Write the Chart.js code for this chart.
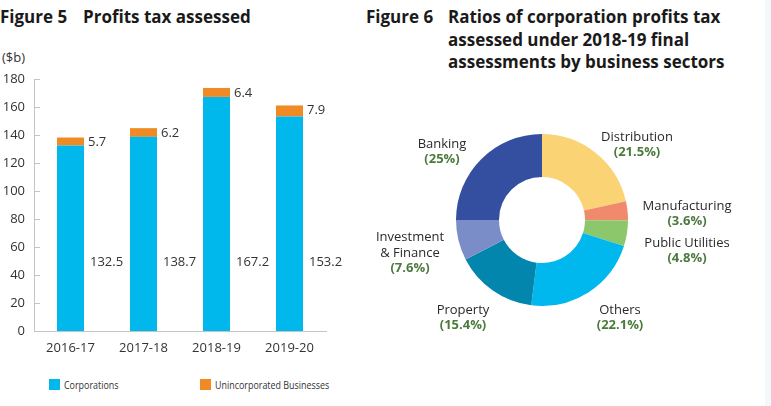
<!DOCTYPE html>
<html>
<head>
<meta charset="utf-8">
<script src="https://cdn.jsdelivr.net/npm/chart.js@4"></script>
<style>
  html, body { margin: 0; padding: 0; background: #fff; }
  body { width: 771px; height: 406px; position: relative; overflow: hidden; font-family: "Open Sans", sans-serif; color: #333; }
  .title { position: absolute; font-family: "Open Sans", sans-serif; font-weight: 700; font-size: 17px; color: #1a1a1a; line-height: 22px; white-space: nowrap; }
  .title .num { display: inline-block; }
  .unit { position: absolute; left: 2px; top: 48px; font-size: 13px; color: #333; }
  .legend { position: absolute; top: 377px; font-size: 11px; color: #333; white-space: nowrap; }
  .legend i { display: inline-block; width: 11px; height: 11px; vertical-align: -1px; margin-right: 4px; }
  .legend span { display: inline-block; transform: scaleX(0.81); transform-origin: left center; }
  .box { position: absolute; }
  .edge { position: absolute; right: 0; top: 0; width: 6px; height: 406px; background: #f3f8fa; }
</style>
</head>
<body>

<div class="title" style="left:0; top:6px;"><span class="num" style="width:83px">Figure 5</span>Profits tax assessed</div>
<div class="title" style="left:366px; top:6px;"><span class="num" style="width:82px">Figure 6</span>Ratios of corporation profits tax</div>
<div class="title" style="left:448px; top:29px;">assessed under 2018-19 final</div>
<div class="title" style="left:448px; top:51px;">assessments by business sectors</div>

<div class="unit">($b)</div>

<div class="box" style="left:0; top:60px; width:345px; height:305px;"><canvas id="barChart"></canvas></div>
<div class="box" style="left:360px; top:100px; width:411px; height:250px;"><canvas id="pieChart"></canvas></div>

<div class="legend" style="left:49px;"><i style="background:#00b8ec"></i><span>Corporations</span></div>
<div class="legend" style="left:200px;"><i style="background:#f08a24"></i><span>Unincorporated Businesses</span></div>

<div class="edge"></div>

<script>
/* ============================================================
   FIGURE 5 - PROFITS TAX ASSESSED
   ============================================================ */

const years = ['2016-17', '2017-18', '2018-19', '2019-20'];
const corporations = [132.5, 138.7, 167.2, 153.2];
const unincorporated = [5.7, 6.2, 6.4, 7.9];
const yTicks = [0, 20, 40, 60, 80, 100, 120, 140, 160, 180];

/* ============================================================
   FIGURE 6 - SECTOR RATIOS
   ============================================================ */

const sectorNames = [['Distribution'], ['Manufacturing'], ['Public Utilities'], ['Others'], ['Property'], ['Investment', '& Finance'], ['Banking']];
const sectorShares = [21.5, 3.6, 4.8, 22.1, 15.4, 7.6, 25];

const BLUE = '#00b8ec';
const ORANGE = '#f08a24';
const sectorColors = ['#fad474', '#ef8a6c', '#8cc76c', '#00b8ee', '#0386ad', '#7b8dc9', '#344ea0'];
// label centres, offset from the doughnut centre (px)
const labelSpots = [[95, -75], [145, -6], [145, 31], [78, 98], [-79, 98], [-132, 33], [-100, -68]];

const AXIS = '#c4c4c4';
const FONT = '"Open Sans", sans-serif';

const barDecor = {
  id: 'barDecor',
  afterDraw(chart) {
    const { ctx, chartArea, scales } = chart;
    const y = scales.y;
    ctx.save();
    // inward tick marks on the value axis
    ctx.strokeStyle = AXIS;
    ctx.lineWidth = 1;
    yTicks.forEach(v => {
      const py = Math.round(y.getPixelForValue(v)) + 0.5;
      ctx.beginPath();
      ctx.moveTo(chartArea.left, py);
      ctx.lineTo(chartArea.left + 6, py);
      ctx.stroke();
    });
    // value labels beside each bar
    ctx.font = '13px ' + FONT;
    ctx.fillStyle = '#333';
    ctx.textAlign = 'left';
    ctx.textBaseline = 'middle';
    const corpMeta = chart.getDatasetMeta(0);
    const uniMeta = chart.getDatasetMeta(1);
    corpMeta.data.forEach((bar, i) => {
      const right = bar.x + bar.width / 2;
      ctx.fillText(corporations[i].toFixed(1), right + 6, y.getPixelForValue(49));
      const top = uniMeta.data[i].y;
      ctx.fillText(unincorporated[i].toFixed(1), right + 4, top + 5);
    });
    ctx.restore();
  }
};

new Chart(document.getElementById('barChart').getContext('2d'), {
  type: 'bar',
  data: {
    labels: years,
    datasets: [
      { label: 'Corporations', data: corporations, backgroundColor: BLUE },
      { label: 'Unincorporated Businesses', data: unincorporated, backgroundColor: ORANGE }
    ]
  },
  options: {
    responsive: true,
    maintainAspectRatio: false,
    animation: false,
    layout: { padding: { top: 19, right: 19, left: 0, bottom: 0 } },
    plugins: { legend: { display: false }, tooltip: { enabled: false } },
    datasets: { bar: { barPercentage: 0.37, categoryPercentage: 1 } },
    scales: {
      x: {
        stacked: true,
        grid: { display: false, drawTicks: false },
        border: { color: AXIS },
        ticks: { color: '#333', font: { family: FONT, size: 13 }, padding: 9 },
        afterFit: s => { s.height = 34; }
      },
      y: {
        stacked: true,
        min: 0,
        max: 180,
        grid: { display: false, drawTicks: false },
        border: { color: AXIS },
        ticks: { stepSize: 20, color: '#333', font: { family: FONT, size: 13 }, padding: 9 },
        afterFit: s => { s.width = 34; }
      }
    }
  },
  plugins: [barDecor]
});

const sectorLabels = {
  id: 'sectorLabels',
  afterDraw(chart) {
    const { ctx } = chart;
    const arc = chart.getDatasetMeta(0).data[0];
    ctx.save();
    ctx.textAlign = 'center';
    ctx.textBaseline = 'middle';
    sectorNames.forEach((lines, i) => {
      const rows = lines.concat(['(' + sectorShares[i] + '%)']);
      const cx = arc.x + labelSpots[i][0];
      let cy = arc.y + labelSpots[i][1] - (rows.length - 1) * 15.5 / 2;
      rows.forEach((t, j) => {
        const last = j === rows.length - 1;
        ctx.font = (last ? '700 ' : '500 ') + '13px ' + FONT;
        ctx.fillStyle = last ? '#4b7a3c' : '#2a2a2a';
        ctx.fillText(t, cx, cy);
        cy += 15.5;
      });
    });
    ctx.restore();
  }
};

new Chart(document.getElementById('pieChart').getContext('2d'), {
  type: 'doughnut',
  data: {
    labels: sectorNames.map(n => n.join(' ')),
    datasets: [{ data: sectorShares, backgroundColor: sectorColors, borderWidth: 0 }]
  },
  options: {
    responsive: true,
    maintainAspectRatio: false,
    animation: false,
    cutout: '50%',
    layout: { padding: { left: 96, right: 143, top: 34, bottom: 44 } },
    plugins: { legend: { display: false }, tooltip: { enabled: false } }
  },
  plugins: [sectorLabels]
});
</script>
</body>
</html>
